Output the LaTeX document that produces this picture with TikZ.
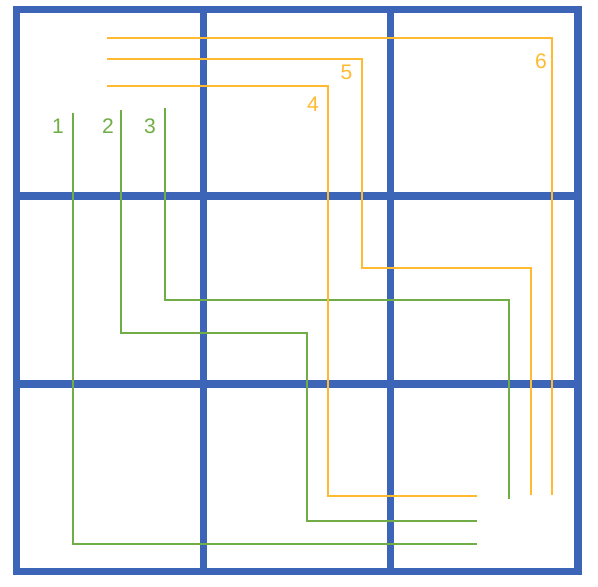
\documentclass[tikz,border=0pt]{standalone}
\usepackage{fontspec}
\setmainfont{Liberation Sans}
\usepackage{xcolor}
\definecolor{gridblue}{HTML}{3C65B8}
\definecolor{pathgreen}{HTML}{70AD47}
\definecolor{pathorange}{HTML}{FFBA30}

\begin{document}
\begin{tikzpicture}[
  x=0.02cm, y=-0.02cm,
  font=\fontsize{12}{14}\selectfont,
  grid/.style={gridblue, line width=4pt},
  gpath/.style={pathgreen, line width=0.8pt},
  opath/.style={pathorange, line width=0.8pt},
  glabel/.style={text=pathgreen},
  olabel/.style={text=pathorange},
]
\useasboundingbox (0,0) rectangle (598,586);

% 3x3 grid
\draw[grid] (16.5,9.5) rectangle (578,571.5);
\foreach \gx in {203.3,390.5}
  \draw[grid] (\gx,9.5) -- (\gx,571.5);
\foreach \gy in {196,384}
  \draw[grid] (16.5,\gy) -- (578,\gy);

% green paths
\draw[gpath] (73,113) -- (73,544) -- (477,544);
\draw[gpath] (121,110) -- (121,333) -- (307,333) -- (307,521) -- (477,521);
\draw[gpath] (165,108) -- (165,300) -- (509,300) -- (509,499);

% orange paths
\draw[opath] (107,86) -- (328,86) -- (328,496) -- (477,496);
\draw[opath] (107,59) -- (362,59) -- (362,268) -- (531,268) -- (531,495);
\draw[opath] (107,38) -- (552,38) -- (552,495);

% labels
\node[glabel] (n1) at (58,126) {1};
\node[glabel] (n2) at (108,126) {2};
\node[glabel] (n3) at (150,126) {3};
\node[olabel] (n4) at (313,104) {4};
\node[olabel] (n5) at (346.5,72) {5};
\node[olabel] (n6) at (541,61) {6};

\end{tikzpicture}
\end{document}
